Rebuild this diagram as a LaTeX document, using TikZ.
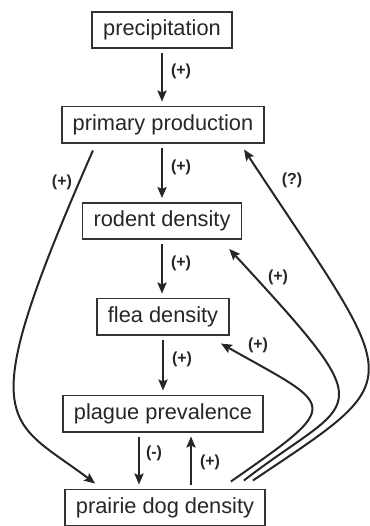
\documentclass[tikz,border=0pt]{standalone}
\usepackage{fontspec}
\setmainfont{Liberation Sans}
\usetikzlibrary{arrows.meta, calc}

\tikzset{
  var/.style={draw=black!80, line width=0.8pt, text=black!85, font=\fontsize{10.9}{13}\selectfont,
    inner xsep=5.5pt, inner ysep=0pt, minimum height=18.2pt},
  arr/.style={draw=black!85, line width=1pt, -{Stealth[length=5.5pt, width=4.6pt, inset=1pt]}},
  gap/.style={shorten <=2pt, shorten >=2pt},
  sign/.style={font=\bfseries\fontsize{8}{9}\selectfont, text=black!85, inner sep=1pt},
}

\begin{document}
\begin{tikzpicture}[x=0.5pt, y=-0.5pt]
    \useasboundingbox (0,0) rectangle (370,526);
    % boxes
    \node[var] (precip) at (162,30) {precipitation};
    \node[var] (primary) at (163,124.5) {primary production};
    \node[var] (rodent) at (162,221) {rodent density};
    \node[var] (flea) at (163,316.5) {flea density};
    \node[var] (plague) at (163,413.5) {plague prevalence};
    \node[var] (prairie) at (165,507.5) {prairie dog density};
    % straight links
    \draw[arr, gap] (precip.south -| 162,0) -- (primary.north -| 162,0)
      node[sign, pos=0.4, right=3pt] (s1) {(+)};
    \draw[arr, gap] (primary.south -| 162,0) -- (rodent.north -| 162,0)
      node[sign, pos=0.4, right=3pt] (s2) {(+)};
    \draw[arr, gap] (rodent.south -| 162,0) -- (flea.north -| 162,0)
      node[sign, pos=0.4, right=3pt] (s3) {(+)};
    \draw[arr, gap] (flea.south -| 163,0) -- (plague.north -| 163,0)
      node[sign, pos=0.4, right=3pt] (s4) {(+)};
    \draw[arr, gap] (plague.south -| 139,0) -- (prairie.north -| 139,0)
      node[sign, pos=0.38, right=2pt] (s5) {(-)};
    \draw[arr, gap] (prairie.north -| 191,0) -- (plague.south -| 191,0)
      node[sign, pos=0.46, right=3pt] (s6) {(+)};
    % feedback curves
    \draw[arr] ($(primary.south west)+(32,7)$) .. controls (-30,430) and (7,417) .. ($(prairie.north west)+(31,-5)$);
    \draw[arr] ($(prairie.north east)+(-35,-7)$) .. controls (345,402) and (335,408) .. ($(flea.south east)+(-9,8)$);
    \draw[arr] ($(prairie.north east)+(-22,-8)$) .. controls (356,394) and (388,421) .. ($(rodent.south east)+(-13,9)$);
    \draw[arr] ($(prairie.north east)+(-13,-8)$) .. controls (413,373) and (403,391) .. ($(primary.south east)+(-21,6)$);
    % curve labels
    \node[sign] (c1) at (62,182) {(+)};
    \node[sign] (c2) at (258,345) {(+)};
    \node[sign] (c3) at (278,277) {(+)};
    \node[sign] (c4) at (292,180) {(?)};
\end{tikzpicture}
\end{document}
